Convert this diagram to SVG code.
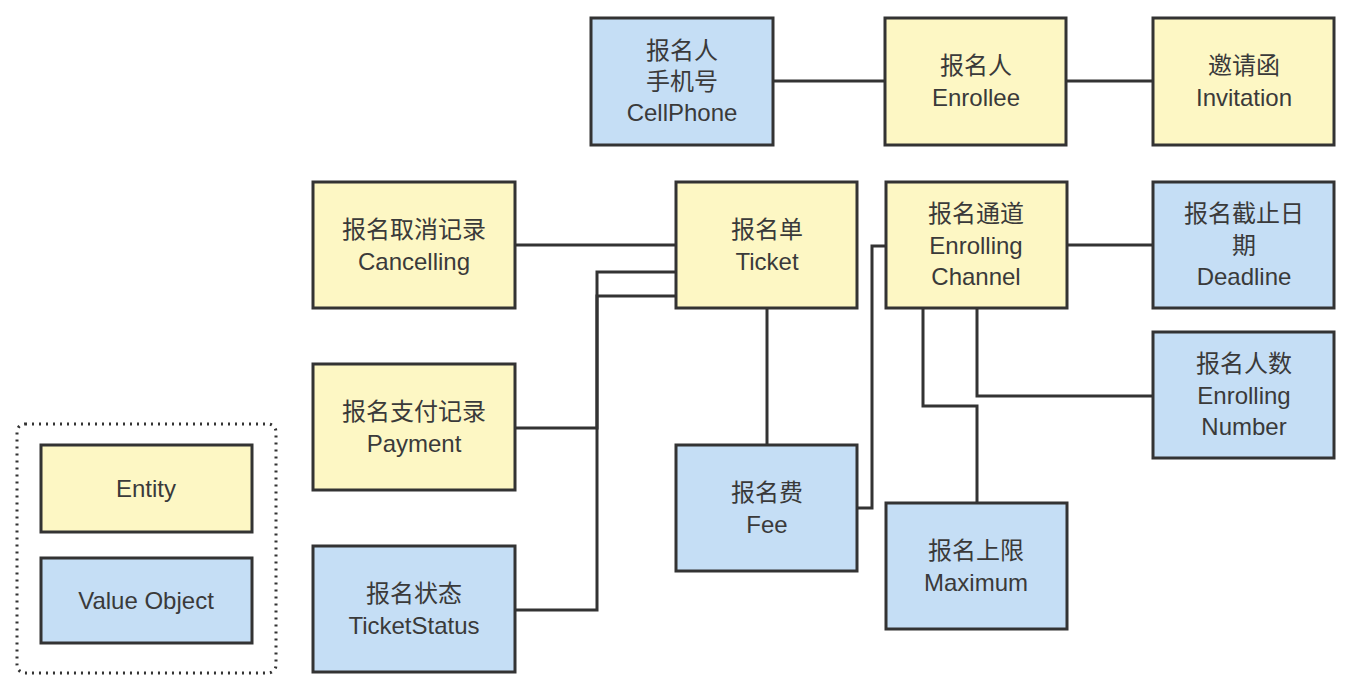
<svg xmlns="http://www.w3.org/2000/svg" width="1356" height="693" viewBox="0 0 1356 693">
<style>
.e{fill:#fdf7c4;stroke:#333;stroke-width:3}
.v{fill:#c5def5;stroke:#333;stroke-width:3}
text{font-family:"Liberation Sans","Noto Sans CJK SC",sans-serif;font-size:24px;fill:#3a3a3a;text-anchor:middle;dominant-baseline:central}
.c{fill:none;stroke:#333;stroke-width:3}
</style>
<rect width="1356" height="693" fill="#fff"/>
<g id="connectors">
<path class="c" d="M773 81H885"/>
<path class="c" d="M1066 81H1153"/>
<path class="c" d="M515 245H676"/>
<path class="c" d="M676 272H597V610H515"/>
<path class="c" d="M676 296H597V428H515"/>
<path class="c" d="M767 308V445"/>
<path class="c" d="M886 246H872V508H857"/>
<path class="c" d="M1067 245H1153"/>
<path class="c" d="M923 308V406H977V503"/>
<path class="c" d="M977 308V396H1153"/>
</g>
<g id="cellphone"><rect class="v" x="591" y="18" width="182" height="127"/><text x="682" y="50">报名人</text><text x="682" y="81">手机号</text><text x="682" y="112">CellPhone</text></g>
<g id="enrollee"><rect class="e" x="885" y="18" width="181" height="127"/><text x="976" y="65">报名人</text><text x="976" y="97">Enrollee</text></g>
<g id="invitation"><rect class="e" x="1153" y="18" width="181" height="127"/><text x="1244" y="65">邀请函</text><text x="1244" y="97">Invitation</text></g>
<g id="cancelling"><rect class="e" x="313" y="182" width="202" height="126"/><text x="414" y="229">报名取消记录</text><text x="414" y="261">Cancelling</text></g>
<g id="ticket"><rect class="e" x="676" y="182" width="181" height="126"/><text x="767" y="229">报名单</text><text x="767" y="261">Ticket</text></g>
<g id="channel"><rect class="e" x="886" y="182" width="181" height="126"/><text x="976" y="213">报名通道</text><text x="976" y="245">Enrolling</text><text x="976" y="276">Channel</text></g>
<g id="deadline"><rect class="v" x="1153" y="182" width="181" height="126"/><text x="1244" y="213">报名截止日</text><text x="1244" y="245">期</text><text x="1244" y="276">Deadline</text></g>
<g id="payment"><rect class="e" x="313" y="364" width="202" height="126"/><text x="414" y="411">报名支付记录</text><text x="414" y="443">Payment</text></g>
<g id="fee"><rect class="v" x="676" y="445" width="181" height="126"/><text x="767" y="492">报名费</text><text x="767" y="524">Fee</text></g>
<g id="number"><rect class="v" x="1153" y="332" width="181" height="126"/><text x="1244" y="363">报名人数</text><text x="1244" y="395">Enrolling</text><text x="1244" y="426">Number</text></g>
<g id="maximum"><rect class="v" x="886" y="503" width="181" height="126"/><text x="976" y="550">报名上限</text><text x="976" y="582">Maximum</text></g>
<g id="status"><rect class="v" x="313" y="546" width="202" height="126"/><text x="414" y="593">报名状态</text><text x="414" y="625">TicketStatus</text></g>
<g id="legend">
<rect x="17" y="424" width="259" height="249" rx="8" fill="none" stroke="#333" stroke-width="3" stroke-dasharray="2 5"/>
<rect class="e" x="41" y="445" width="211" height="87"/><text x="146" y="488">Entity</text>
<rect class="v" x="41" y="558" width="211" height="85"/><text x="146" y="600">Value Object</text>
</g>
</svg>
